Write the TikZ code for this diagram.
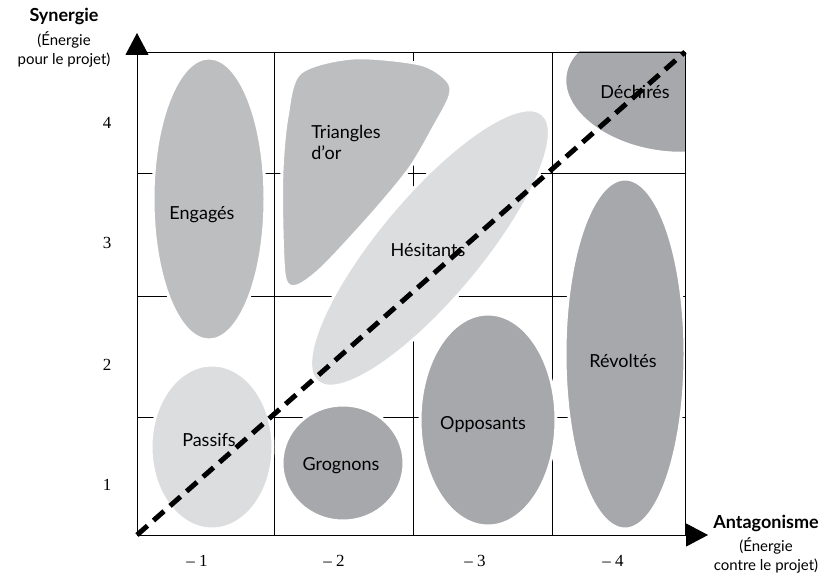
\documentclass[tikz,border=0pt]{standalone}
\usepackage{fontspec}
\setmainfont{Lato}
\newfontfamily\numfont{Liberation Serif}
\usetikzlibrary{arrows.meta}
\definecolor{greylight}{HTML}{DCDDDF}
\definecolor{greymid}{HTML}{BDBEC0}
\definecolor{greydark}{HTML}{A7A8AB}

\begin{document}
\begin{tikzpicture}[x=1pt, y=1pt,
    every node/.style={font=\fontsize{18}{21}\selectfont},
    zone/.style={draw=white, line width=3pt},
    gridline/.style={line width=0.8pt},
    axis/.style={line width=1pt, -{Triangle[length=22pt, width=23pt]}},
    tick/.style={font=\numfont\fontsize{17}{20}\selectfont},
    axistitle/.style={align=center, font=\fontsize{15}{19}\selectfont}
]
    \useasboundingbox (0,0) rectangle (835,582);
    \coordinate (origin) at (137,47);
    \coordinate (corner) at (685,530);

    % Inner grid lines
    \foreach \x in {274, 413, 552} \draw[gridline] (\x,47) -- (\x,530);
    \foreach \y in {165, 286, 409} \draw[gridline] (137,\y) -- (685,\y);

    % Zones
    \begin{scope}
        \clip (origin) rectangle (corner);
        \filldraw[zone, fill=greymid] (209,383) ellipse [x radius=56, y radius=141];
        \filldraw[zone, fill=greymid] plot[smooth cycle, tension=0.5] coordinates {
            (353,524) (420,518) (447,502) (450,486) (434,455) (410,414) (373,369)
            (323,315) (297,296) (285,303) (282,352) (282,412) (287,465) (300,509)};
        \filldraw[zone, fill=greylight, rotate around={50:(430,334)}]
            (430,334) ellipse [x radius=175, y radius=52];
        \filldraw[zone, fill=greydark, rotate around={-9:(665,492)}]
            (665,492) ellipse [x radius=101, y radius=62];
        \filldraw[zone, fill=greylight] (212,135) ellipse [x radius=61, y radius=82];
        \filldraw[zone, fill=greydark] (343,119) ellipse [x radius=61, y radius=58];
        \filldraw[zone, fill=greydark] (488,162) ellipse [x radius=68, y radius=106];
        \filldraw[zone, fill=greydark] (625,228) ellipse [x radius=60, y radius=175];
    \end{scope}

    % Frame and axes
    \draw[gridline] (137,530) -- (corner) -- (685,47);
    \draw[axis] (origin) -- (137,549);
    \draw[axis] (origin) -- (708,47);

    % Zone labels
    \node (engages)   at (202,367) {Engagés};
    \node[align=left] (triangles) at (346,440) {Triangles\\d’or};
    \node (hesitants) at (428,332) {Hésitants};
    \node (dechires)  at (635,490) {Déchirés};
    \node (passifs)   at (209,142) {Passifs};
    \node (grognons)  at (341,116) {Grognons};
    \node (opposants) at (483,157) {Opposants};
    \node (revoltes)  at (623,221) {Révoltés};

    % Diagonal
    \draw[line width=5pt, dash pattern=on 14pt off 8pt] (origin) -- (corner);

    % Scale values
    \foreach \n/\y in {1/97, 2/217, 3/339, 4/459}
        \node[tick] (y\n) at (107,\y) {\n};
    \foreach \n/\x in {1/197, 2/334, 3/475, 4/613}
        \node[tick] (x\n) at (\x,21) {– \n};

    % Axis titles
    \node[axistitle] (synergie) at (64,544)
        {{\fontsize{18}{19}\selectfont\bfseries Synergie}\\[5pt](Énergie\\pour le projet)};
    \node[axistitle] (antagonisme) at (766,38)
        {{\fontsize{18}{19}\selectfont\bfseries Antagonisme}\\[4pt](Énergie\\contre le projet)};
\end{tikzpicture}
\end{document}
